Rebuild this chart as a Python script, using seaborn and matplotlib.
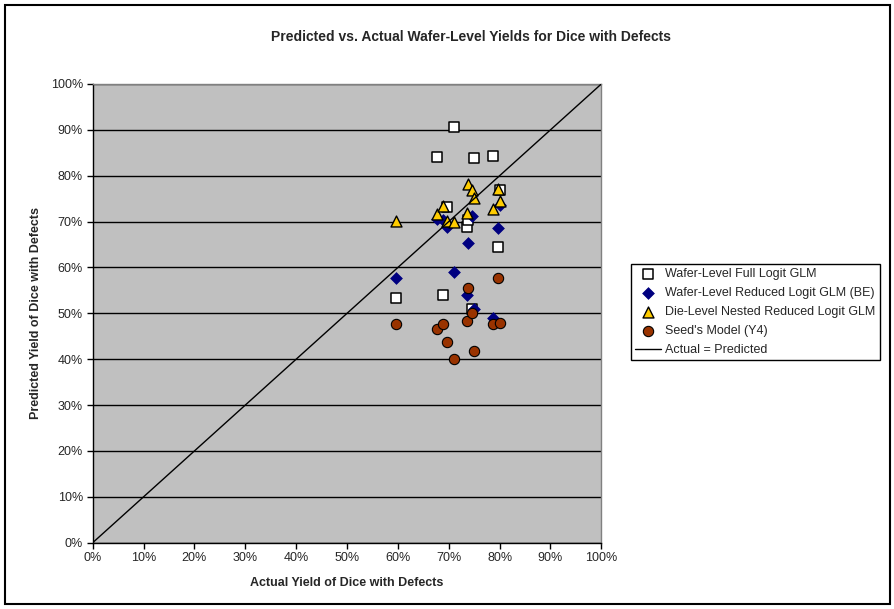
import matplotlib
matplotlib.use('Agg')
import matplotlib.pyplot as plt
import seaborn as sns
from matplotlib.patches import Rectangle
from matplotlib.ticker import PercentFormatter

# actual yield (%) shared by every series
actual = [59.6, 67.6, 68.9, 69.7, 71.1, 73.5, 73.7, 74.6, 75.0, 78.8, 79.6, 80.0]

# predicted yields (%)
full_glm = [53.4, 84.1, 53.9, 73.2, 90.7, 68.9, 70.4, 50.9, 83.9, 84.2, 64.5, 76.9]
reduced_glm = [57.6, 70.5, 70.4, 68.9, 59.1, 54.1, 65.3, 71.2, 50.9, 48.9, 68.7, 73.6]
nested_glm = [70.1, 71.6, 73.5, 70.1, 69.9, 71.9, 78.2, 77.0, 75.2, 72.8, 77.2, 74.5]
seed_y4 = [47.7, 46.5, 47.6, 43.8, 40.1, 48.4, 55.6, 50.0, 41.7, 47.6, 57.6, 48.0]

diag = [0, 100]
ticks = list(range(0, 101, 10))

sns.set_style('white')
plt.rcParams['font.family'] = ['Liberation Sans', 'DejaVu Sans']

W, H = 894, 609
fig = plt.figure(figsize=(W / 100, H / 100), dpi=100)
ax = fig.add_axes([92.7 / W, 1 - 542.7 / H, (601.3 - 92.7) / W, (542.7 - 84) / H])
ax.set_facecolor('#C0C0C0')

sns.scatterplot(x=actual, y=full_glm, ax=ax, marker='s', s=50, color='white',
                edgecolor='black', linewidth=1.1, label='Wafer-Level Full Logit GLM', zorder=3)
sns.scatterplot(x=actual, y=reduced_glm, ax=ax, marker='D', s=36, color='#000080',
                edgecolor='#000080', linewidth=0.5, label='Wafer-Level Reduced Logit GLM (BE)', zorder=4)
sns.scatterplot(x=actual, y=nested_glm, ax=ax, marker='^', s=62, color='#FFCC00',
                edgecolor='black', linewidth=1.0, label='Die-Level Nested Reduced Logit GLM', zorder=5)
sns.scatterplot(x=actual, y=seed_y4, ax=ax, marker='o', s=55, color='#993300',
                edgecolor='black', linewidth=0.8, label="Seed's Model (Y4)", zorder=6)
sns.lineplot(x=diag, y=diag, ax=ax, color='black', linewidth=1.0,
             label='Actual = Predicted', zorder=7)

ax.set_xlim(0, 100)
ax.set_ylim(0, 100)
ax.set_xticks(ticks)
ax.set_yticks(ticks)
ax.xaxis.set_major_formatter(PercentFormatter(decimals=0))
ax.yaxis.set_major_formatter(PercentFormatter(decimals=0))
ax.tick_params(axis='both', direction='out', length=4, width=1, color='black',
               labelsize=9, pad=3, bottom=True, left=True)
ax.grid(axis='y', color='black', linewidth=1.0, zorder=1)
ax.grid(axis='x', visible=False)
ax.set_axisbelow(True)
for side in ['top', 'right']:
    ax.spines[side].set_color('#808080')
for side in ['left', 'bottom']:
    ax.spines[side].set_color('black')
for sp in ax.spines.values():
    sp.set_linewidth(1.0)

ax.set_xlabel('Actual Yield of Dice with Defects', fontsize=9, fontweight='bold', labelpad=9)
ax.set_ylabel('Predicted Yield of Dice with Defects', fontsize=9, fontweight='bold', labelpad=6)

fig.text(471 / W, 1 - 37 / H, 'Predicted vs. Actual Wafer-Level Yields for Dice with Defects',
         ha='center', va='center', fontsize=10, fontweight='bold')

leg = ax.legend(loc='upper left', bbox_to_anchor=(630.7 / W, 1 - 264 / H),
                bbox_transform=fig.transFigure, fontsize=9, frameon=True, fancybox=False,
                edgecolor='black', framealpha=1, borderpad=0.35, labelspacing=0.55,
                handlelength=2.1, handletextpad=0.3, borderaxespad=0)
leg.get_frame().set_linewidth(1.0)

fig.patches.append(Rectangle((5 / W, 5 / H), 885 / W, 599 / H, transform=fig.transFigure,
                             fill=False, edgecolor='black', linewidth=1.5))

fig.savefig('out.png', dpi=100)
